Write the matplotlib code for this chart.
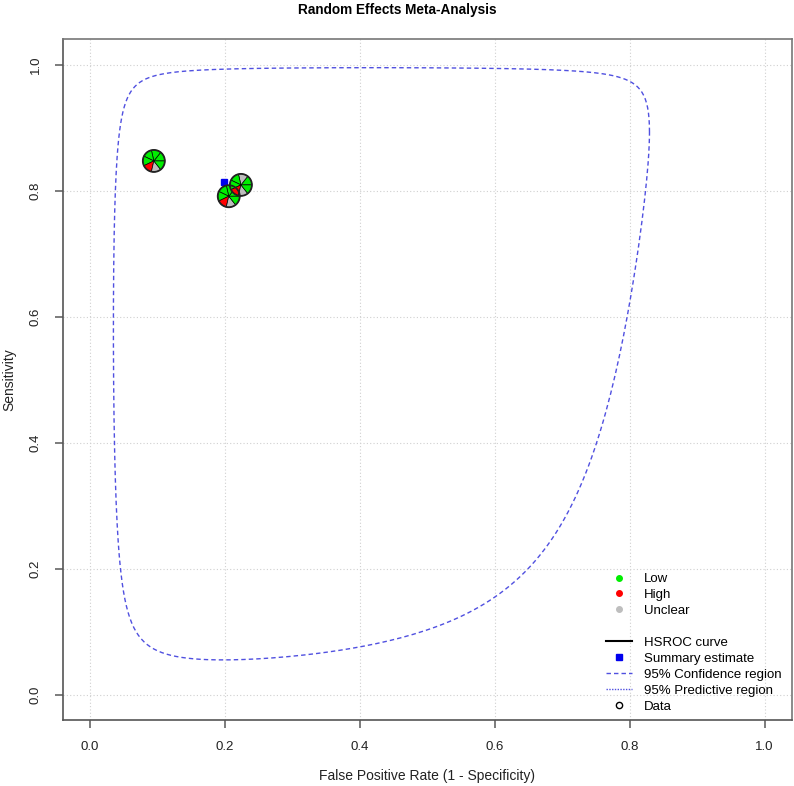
import numpy as np
import matplotlib
matplotlib.use("Agg")
import matplotlib.pyplot as plt
from matplotlib.patches import Wedge, Circle
from matplotlib.lines import Line2D
import matplotlib.transforms as mtransforms

plt.rcParams['font.family'] = ['Liberation Sans', 'DejaVu Sans']

# study estimates (fpr, sensitivity)
study_fpr = [0.095, 0.206, 0.224]
study_sens = [0.847, 0.791, 0.809]
# quality ratings per study (7 items each)
study_quality = [
    ['Low', 'Low', 'Low', 'Low', 'High', 'Unclear', 'Low'],
    ['Low', 'Low', 'Low', 'Low', 'High', 'Unclear', 'Low'],
    ['Low', 'Unclear', 'Low', 'Low', 'High', 'Unclear', 'Low'],
]
quality_colors = {'Low': '#00ee00', 'High': '#ff0000', 'Unclear': '#bebebe'}

# summary estimate
summary_fpr = 0.199
summary_sens = 0.813

# 95% region, ellipse on logit scale
region_center_fpr = 0.296
region_center_sens = 0.773
sd_logit_fpr = 1.0
sd_logit_sens = 1.66
rho = 0.22
conf_level_radius = np.sqrt(-2 * np.log(1 - 0.95))

xticks = [0.0, 0.2, 0.4, 0.6, 0.8, 1.0]
yticks = [0.0, 0.2, 0.4, 0.6, 0.8, 1.0]


def logit(p):
    return np.log(p / (1 - p))


def inv_logit(v):
    return 1 / (1 + np.exp(-v))


fig = plt.figure(figsize=(7.94, 7.86), dpi=100)
ax = fig.add_axes([0.079, 0.084, 0.918, 0.866])
ax.set_xlim(-0.04, 1.04)
ax.set_ylim(-0.04, 1.04)

# grid
for t in xticks:
    ax.axvline(t, color='#d0d0d0', lw=0.8, ls=(0, (1, 2)), zorder=0)
for t in yticks:
    ax.axhline(t, color='#d0d0d0', lw=0.8, ls=(0, (1, 2)), zorder=0)

# confidence region
t = np.linspace(0, 2 * np.pi, 400)
cx, cy = logit(region_center_fpr), logit(region_center_sens)
u = cx + conf_level_radius * sd_logit_fpr * np.cos(t)
v = cy + conf_level_radius * sd_logit_sens * (rho * np.cos(t) + np.sqrt(1 - rho ** 2) * np.sin(t))
ax.plot(inv_logit(u), inv_logit(v), color='#5050e0', lw=1.0, dashes=(3.2, 2.2), zorder=2)

# study pies
r_in = 0.11
for x, y, qual in zip(study_fpr, study_sens, study_quality):
    trans = fig.dpi_scale_trans + mtransforms.ScaledTranslation(x, y, ax.transData)
    n = len(qual)
    for i, q in enumerate(qual):
        w = Wedge((0, 0), r_in, 360 * i / n, 360 * (i + 1) / n,
                  facecolor=quality_colors[q], edgecolor='black', lw=0.5,
                  transform=trans, zorder=4)
        ax.add_patch(w)
    ax.add_patch(Circle((0, 0), r_in, facecolor='none', edgecolor='#222222',
                        lw=1.3, transform=trans, zorder=5))

# summary estimate
ax.plot([summary_fpr], [summary_sens], marker='s', color='#0000ee', ms=4.5,
        ls='none', zorder=3)

# axes styling
for s in ax.spines.values():
    s.set_color('#777777')
    s.set_linewidth(1.2)
ax.spines['left'].set_color('#555555')
ax.spines['bottom'].set_color('#555555')
ax.set_xticks(xticks)
ax.set_yticks(yticks)
ax.set_xticklabels([f"{v:.1f}" for v in xticks])
ax.set_yticklabels([f"{v:.1f}" for v in yticks], rotation=90, va='center')
ax.tick_params(axis='both', direction='out', length=6, width=1.2,
               color='#666666', labelsize=9.5, labelcolor='#222222')
ax.tick_params(axis='x', pad=9)
ax.tick_params(axis='y', pad=9)

ax.set_xlabel('False Positive Rate (1 - Specificity)', fontsize=10,
              color='#222222', labelpad=12)
ax.set_ylabel('Sensitivity', fontsize=10, color='#222222', labelpad=10)
fig.text(0.5, 0.987, 'Random Effects Meta-Analysis', ha='center', va='center',
         fontsize=9.8, fontweight='bold', family=['Liberation Sans Narrow', 'Liberation Sans'])

# legend
handles = [
    Line2D([], [], marker='o', ls='none', color=quality_colors['Low'], ms=4),
    Line2D([], [], marker='o', ls='none', color=quality_colors['High'], ms=4),
    Line2D([], [], marker='o', ls='none', color=quality_colors['Unclear'], ms=4),
    Line2D([], [], ls='none'),
    Line2D([], [], color='black', lw=1.5),
    Line2D([], [], marker='s', ls='none', color='#0000ee', ms=4),
    Line2D([], [], color='#5050e0', lw=1.0, dashes=(3.2, 2.2)),
    Line2D([], [], color='#5050e0', lw=1.0, dashes=(1, 1)),
    Line2D([], [], marker='o', ls='none', markerfacecolor='none',
           markeredgecolor='black', ms=4.5),
]
labels = ['Low', 'High', 'Unclear', '', 'HSROC curve', 'Summary estimate',
          '95% Confidence region', '95% Predictive region', 'Data']
ax.legend(handles, labels, loc='upper left', bbox_to_anchor=(0.745, 0.216),
          frameon=False, fontsize=9.5, labelspacing=0.28, handlelength=2.0,
          handletextpad=0.9, borderpad=0, borderaxespad=0)

fig.savefig('out.png', dpi=100)
